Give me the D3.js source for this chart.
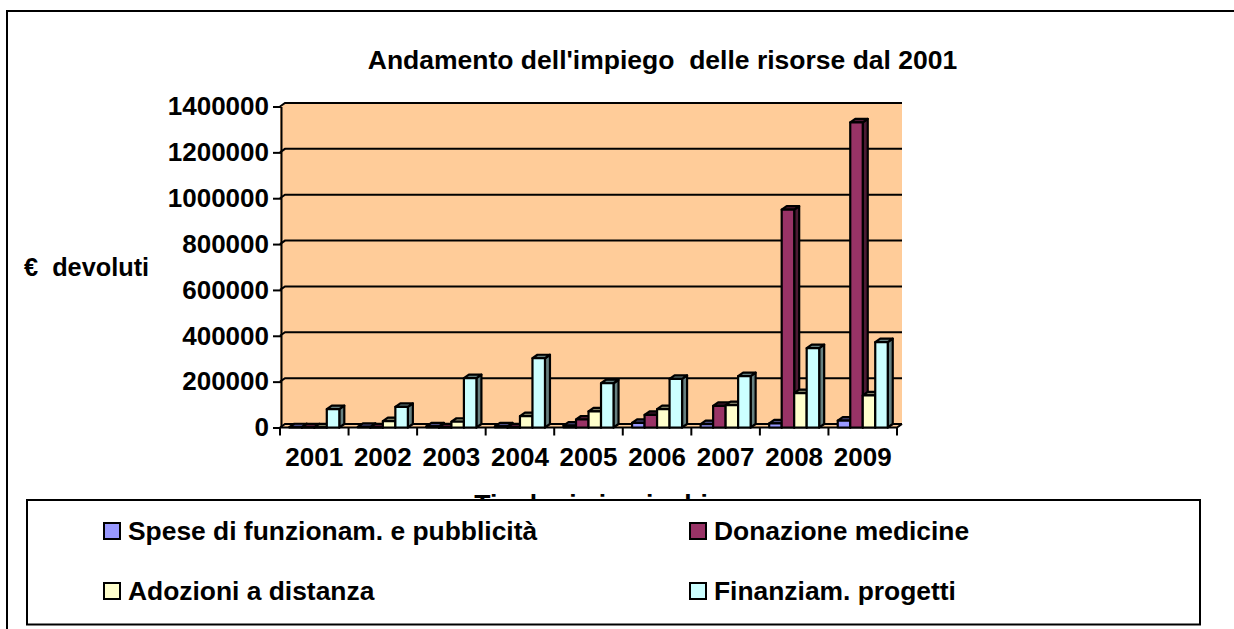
<!DOCTYPE html>
<html>
<head>
<meta charset="utf-8">
<script src="https://cdn.jsdelivr.net/npm/d3@7"></script>
<style>
html,body {margin:0;padding:0;background:#fff;}
svg {display:block;}
text {font-family:"Liberation Sans",Arial,sans-serif;font-weight:bold;fill:#000;}
</style>
</head>
<body>
<div id="chart"></div>
<script>
var chartTitle = "Andamento dell'impiego  delle risorse dal 2001"
var yAxisLabel = '€  devoluti'
var xAxisLabel = 'Tipologia impieghi'

var years = ['2001','2002','2003','2004','2005','2006','2007','2008','2009']
var yTicks = [0,200000,400000,600000,800000,1000000,1200000,1400000]
var seriesNames = ['Spese di funzionam. e pubblicità','Donazione medicine','Adozioni a distanza','Finanziam. progetti']
var seriesColors = ['#9999ff','#993366','#ffffcc','#ccffff']
var sideColors = ['#4c4c80','#4c1a33','#808066','#668080']

var spese = [1000,3000,5000,5000,8000,20000,15000,18000,30000]
var medicine = [500,500,500,500,35000,55000,94000,950000,1331000]
var adozioni = [500,28000,25000,50000,70000,80000,98000,150000,140000]
var progetti = [80000,90000,215000,302000,193000,212000,224000,346000,372000]
var allSeries = [spese,medicine,adozioni,progetti]

var depthX = 5, depthY = 3.5

var svg = d3.select('#chart').append('svg').attr('width',1234).attr('height',629)

// outer frame: only top and left show in the picture
svg.append('path').attr('d','M7,629V11H1234')
    .attr('fill','none').attr('stroke','#000').attr('stroke-width',2)

var xScale = d3.scaleBand().domain(years).range([280,897])
var yScale = d3.scaleLinear().domain([0,1400000]).range([427.5,106.5])
var barX = d3.scaleBand().domain(d3.range(4)).range([9.3,59.3])

// back wall plus the sliver of side wall, same colour
svg.append('polygon')
    .attr('points',[[280,yScale(1400000)],[280+depthX,yScale(1400000)-depthY],
        [897+depthX,yScale(1400000)-depthY],[897+depthX,yScale(0)-depthY],[897,yScale(0)],[280,yScale(0)]].join(' '))
    .attr('fill','#ffcc99')

// gridlines with the small diagonal on the left wall
var grid = svg.append('g')
yTicks.forEach(function(t) {
    grid.append('path')
        .attr('d','M280,'+yScale(t)+'l'+depthX+','+(-depthY)+'H'+(897+depthX))
        .attr('fill','none').attr('stroke','#000').attr('stroke-width',2)
})
// floor edge and corner
svg.append('path')
    .attr('d','M280,'+yScale(0)+'H897l'+depthX+','+(-depthY))
    .attr('fill','none').attr('stroke','#000').attr('stroke-width',2)

var yAxis = d3.axisLeft(yScale).tickValues(yTicks).tickFormat(d3.format('d')).tickSize(8).tickPadding(4).tickSizeOuter(0)
var xAxis = d3.axisBottom(xScale).tickSize(0).tickPadding(0)

var yG = svg.append('g').attr('transform','translate(281,0)').call(yAxis)
yG.select('.domain').attr('stroke-width',2)
yG.selectAll('line').attr('stroke-width',2)
yG.selectAll('text').style('font-size','26px')

var xG = svg.append('g').attr('transform','translate(0,'+yScale(0)+')').call(xAxis)
xG.select('.domain').remove()
xG.selectAll('.tick line').remove()
xG.selectAll('text').style('font-size','26px').attr('y',38.5).attr('dy',0)
xScale.domain().concat(['end']).forEach(function(y,i) {
    var px = xScale.range()[0] + i*xScale.step()
    xG.append('line').attr('x1',px).attr('x2',px).attr('y1',0).attr('y2',8)
        .attr('stroke','#000').attr('stroke-width',2)
})

// bars, drawn left to right so each one covers its neighbour's side
var bars = svg.append('g')
years.forEach(function(year,i) {
    allSeries.forEach(function(values,s) {
        var x0 = xScale(year) + barX(s)
        var w = barX.bandwidth()
        var y0 = yScale(values[i])
        var yb = yScale(0)
        var g = bars.append('g').attr('stroke','#000').attr('stroke-width',2.2).attr('stroke-linejoin','round')
        g.append('polygon') // side
            .attr('points',[[x0+w,y0],[x0+w+depthX,y0-depthY],[x0+w+depthX,yb-depthY],[x0+w,yb]].join(' '))
            .attr('fill',sideColors[s])
        g.append('polygon') // top
            .attr('points',[[x0,y0],[x0+depthX,y0-depthY],[x0+w+depthX,y0-depthY],[x0+w,y0]].join(' '))
            .attr('fill',sideColors[s])
        g.append('rect') // front
            .attr('x',x0).attr('y',y0).attr('width',w).attr('height',yb-y0)
            .attr('fill',seriesColors[s])
    })
})

svg.append('text').attr('x',662.5).attr('y',68.5).attr('text-anchor','middle')
    .style('font-size','26.5px').style('white-space','pre').attr('xml:space','preserve').text(chartTitle)
svg.append('text').attr('x',24).attr('y',276)
    .style('font-size','25.3px').style('white-space','pre').attr('xml:space','preserve').text(yAxisLabel)
svg.append('text').attr('x',591).attr('y',513).attr('text-anchor','middle')
    .style('font-size','26.5px').text(xAxisLabel)

// legend sits on top and cuts the x axis title
var legend = svg.append('g')
legend.append('rect').attr('x',27).attr('y',500).attr('width',1173).attr('height',124.5)
    .attr('fill','#fff').attr('stroke','#000').attr('stroke-width',2)
var legendPos = [[104,531],[690,531],[104,591],[690,591]]
seriesNames.forEach(function(name,s) {
    legend.append('rect').attr('x',legendPos[s][0]).attr('y',legendPos[s][1]-8)
        .attr('width',16).attr('height',16)
        .attr('fill',seriesColors[s]).attr('stroke','#000').attr('stroke-width',2)
    legend.append('text').attr('x',legendPos[s][0]+24).attr('y',legendPos[s][1]+9)
        .style('font-size','26.4px').text(name)
})
</script>
</body>
</html>
